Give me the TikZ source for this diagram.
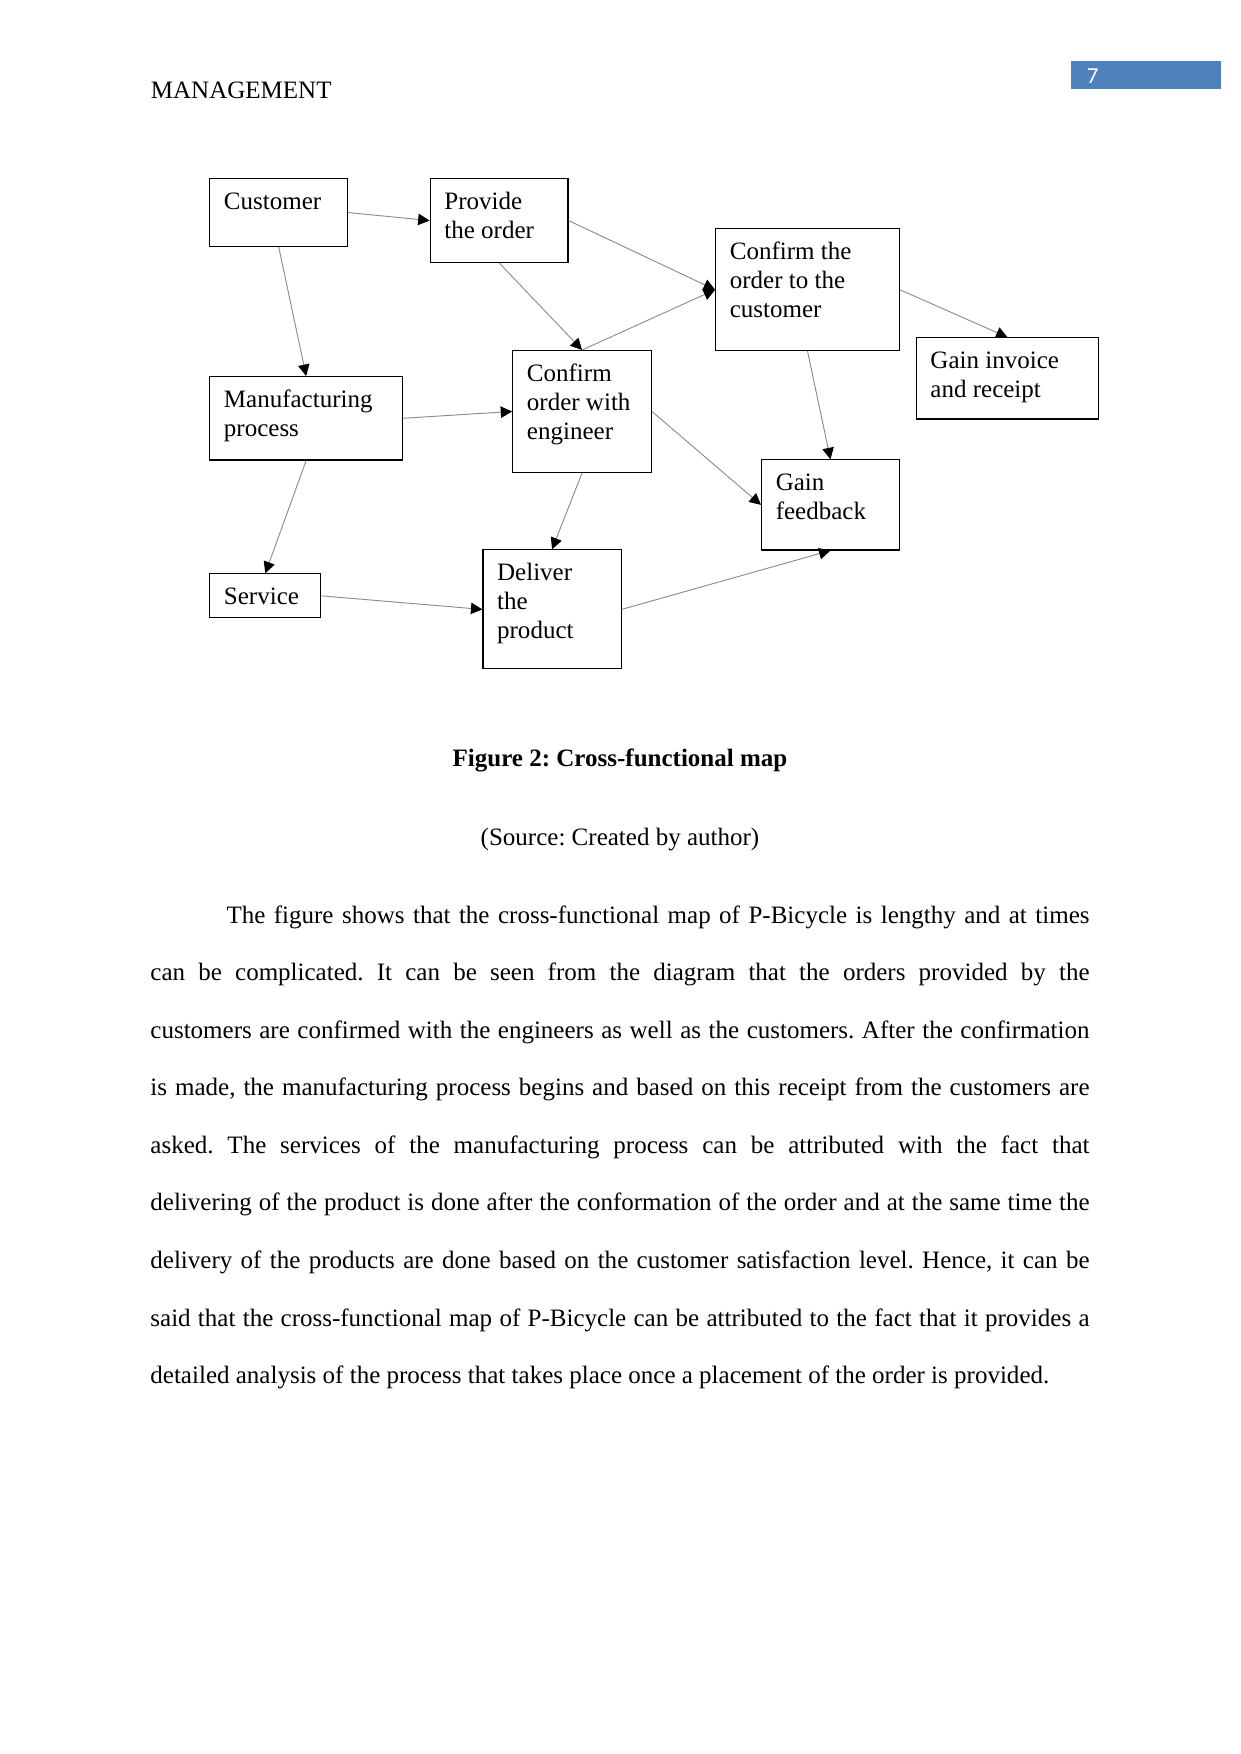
\documentclass[tikz,border=0pt]{standalone}
\usepackage{fontspec}
\setmainfont{Liberation Serif}
\newfontfamily\tabfont{Carlito}
\usepackage{tikz}
\usetikzlibrary{arrows.meta}
\frenchspacing
\definecolor{ink}    {HTML}{000000}
\definecolor{wire}   {HTML}{8C8C8C}
\definecolor{tabblue}{HTML}{4F81BD}
% top-aligned text block inside a process box
\newcommand{\cellbox}[3]{\parbox[t][#2][t]{#1}{\raggedright\rule{0pt}{10.5pt}#3}}
\tikzset{
  proc/.style  = {draw=ink, line width=0.55pt, anchor=north west,
                  inner xsep=6.8pt, inner ysep=4.4pt,
                  font=\fontsize{12}{13.8}\selectfont},
  flow/.style  = {-{Triangle[length=5.5pt,width=5.5pt,color=ink]},
                  draw=wire, line width=0.45pt},
  txt/.style   = {inner sep=0pt, font=\fontsize{12}{13.8}\selectfont},
}

\begin{document}
\begin{tikzpicture}[x=0.4797pt, y=-0.4797pt]
  \useasboundingbox (0,0) rectangle (1241,1754);

  % running head
  \node[txt, anchor=base west] (head) at (150.5,99) {MANAGEMENT};
  \fill[tabblue] (1071,61) rectangle (1221,88.7);
  \node[inner sep=0pt, anchor=base west, text=white,
        font=\tabfont\fontsize{11}{13}\selectfont] (pgnum) at (1086.5,83.3) {7};

  % process boxes
  \node[proc] (cust)    at (209.2,178.3) {\cellbox{52.5pt}{23.5pt}{Customer}};
  \node[proc] (prov)    at (429.6,178.3) {\cellbox{52.5pt}{31.2pt}{Provide\\the order}};
  \node[proc] (ccust)   at (715.1,228.3) {\cellbox{74.5pt}{49.6pt}{Confirm the\\order to the\\customer}};
  \node[proc] (invoice) at (915.7,337.3) {\cellbox{74.0pt}{30.1pt}{Gain invoice\\and receipt}};
  \node[proc] (manu)    at (209.2,376.0) {\cellbox{78.9pt}{31.2pt}{Manufacturing\\process}};
  \node[proc] (ceng)    at (512.2,350.0) {\cellbox{52.9pt}{49.6pt}{Confirm\\order with\\engineer}};
  \node[proc] (feed)    at (761.0,459.3) {\cellbox{52.5pt}{34.4pt}{Gain\\feedback}};
  \node[proc] (serv)    at (209.2,573.3) {\cellbox{39.7pt}{12.3pt}{Service}};
  \node[proc] (deliv)   at (482.4,549.3) {\cellbox{52.7pt}{48.3pt}{Deliver\\the\\product}};

  \draw[flow] (cust.east)   -- (prov.west);
  \draw[flow] (cust.south)  -- (manu.north);
  \draw[flow] (prov.east)   -- (ccust.west);
  \draw[flow] (prov.south)  -- (ceng.north);
  \draw[flow] (ceng.north)  -- (ccust.west);
  \draw[flow] (ccust.east)  -- (invoice.north);
  \draw[flow] (ccust.south) -- (feed.north);
  \draw[flow] (manu.east)   -- (ceng.west);
  \draw[flow] (ceng.east)   -- (feed.west);
  \draw[flow] (manu.south)  -- (serv.north);
  \draw[flow] (ceng.south)  -- (deliv.north);
  \draw[flow] (serv.east)   -- (deliv.west);
  \draw[flow] (deliv.east)  -- (feed.south);

  % caption and text
  \node[txt, anchor=base, font=\fontsize{12}{13.8}\selectfont\bfseries] (cap) at (620,766.7)
    {Figure 2: Cross-functional map};
  \node[txt, anchor=base] (src) at (620,845) {(Source: Created by author)};
  \node[txt, anchor=base west] (body) at (150,923.3) {\parbox[t]{450.5pt}{%
    \fontsize{12}{27.6}\selectfont\frenchspacing\hyphenpenalty=10000\exhyphenpenalty=10000
    \hspace*{36.5pt}The figure shows that the cross-functional map of P-Bicycle is lengthy and at times\linebreak
    can be complicated. It can be seen from the diagram that the orders provided by the\linebreak
    customers are confirmed with the engineers as well as the customers. After the confirmation\linebreak
    is made, the manufacturing process begins and based on this receipt from the customers are\linebreak
    asked. The services of the manufacturing process can be attributed with the fact that\linebreak
    delivering of the product is done after the conformation of the order and at the same time the\linebreak
    delivery of the products are done based on the customer satisfaction level. Hence, it can be\linebreak
    said that the cross-functional map of P-Bicycle can be attributed to the fact that it provides a\linebreak
    detailed analysis of the process that takes place once a placement of the order is provided.}};
\end{tikzpicture}
\end{document}
